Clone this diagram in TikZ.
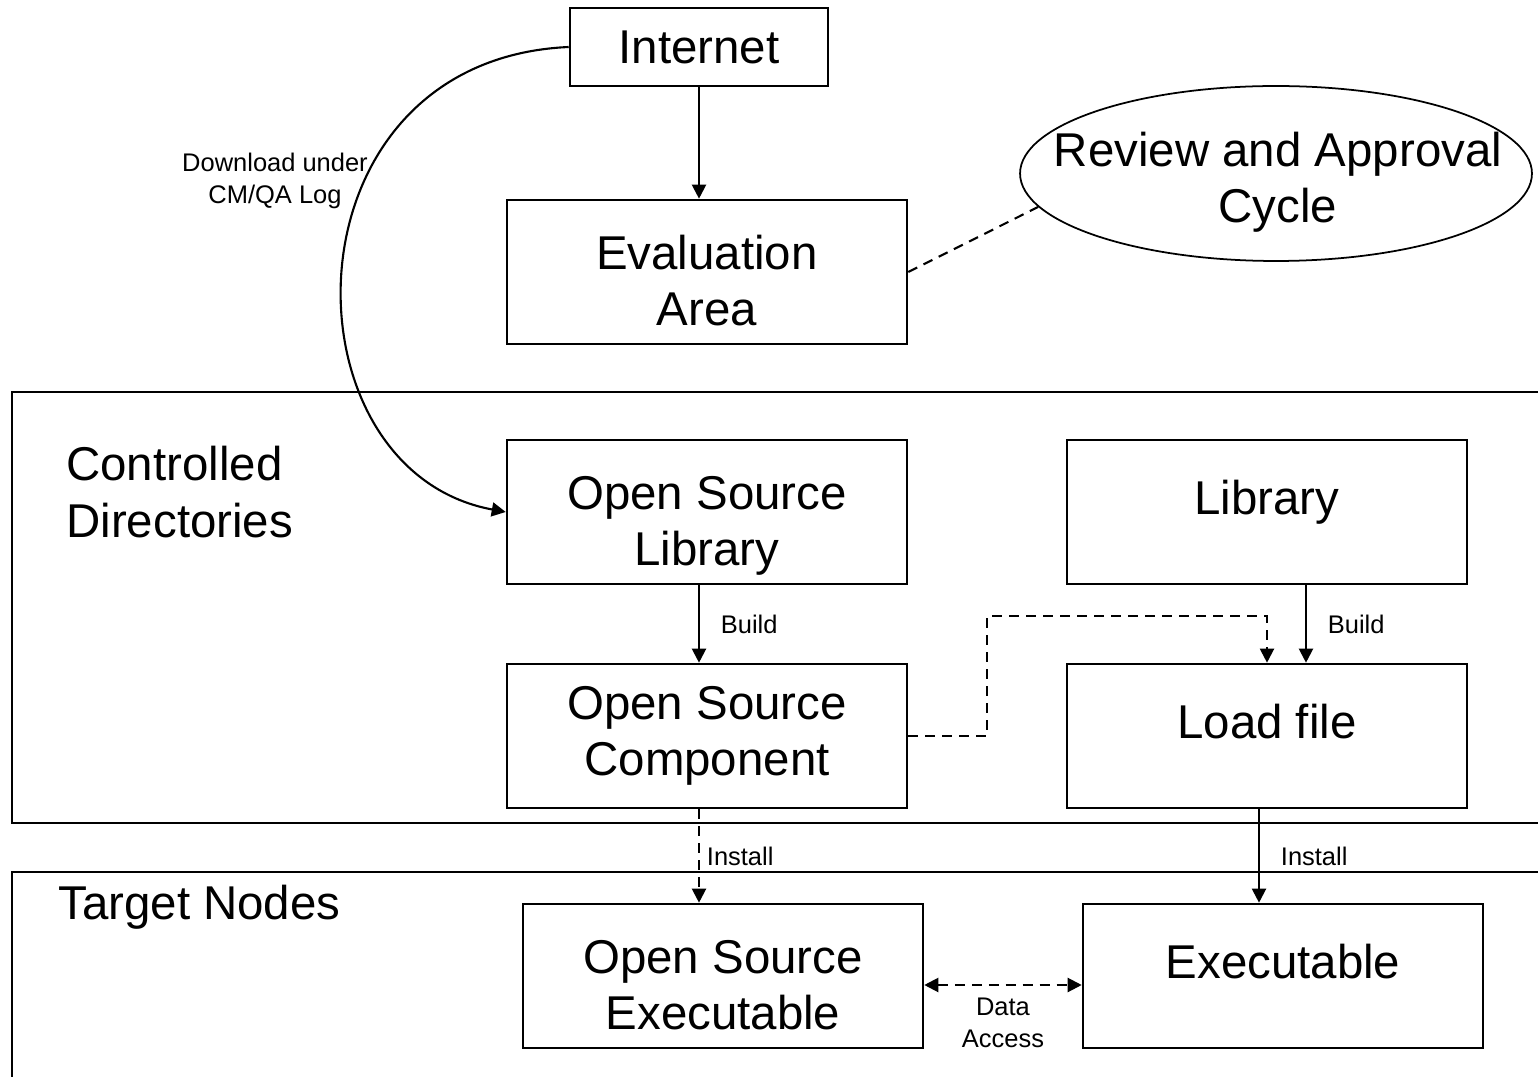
\documentclass[tikz,border=0pt]{standalone}
\usepackage{fontspec}
\setmainfont{Liberation Sans}
\usepackage{tikz}
\usetikzlibrary{positioning, arrows.meta, shapes.geometric}
\tikzset{
    %Define style for boxes
    box/.style={
           rectangle,
           draw=black, line width=1.5pt,
           minimum width=8cm,
           minimum height=2.88cm,
           align=center,
           text height=2.4cm,
           text depth=0.24cm,
           font=\fontsize{27}{32}\selectfont},
 %
  onebox/.style={
           box,
           text height=0.7cm,
           text depth=0.6cm},
 %
  cloud/.style={
           ellipse,
           draw=black, line width=1pt,
           minimum width=10.24cm,
           minimum height=3.5cm},
 %
  area/.style={
           draw=black, line width=1.5pt},
 %
  small/.style={
           font=\fontsize{14.5}{18}\selectfont},
 %
    % Define arrow style
    arrow/.style={
           -{Triangle[length=0.28cm,width=0.28cm]},
           line width=1.2pt},
    dasharrow/.style={
           arrow,
           dash pattern=on 0.2cm off 0.14cm}
}

\begin{document}
\begin{tikzpicture}[x=0.02cm, y=-0.02cm]
  \useasboundingbox (0,0) rectangle (1538,1077);

  % the two areas
  \draw[area] (12,392) rectangle (1580,823);
  \draw[area] (12,872) rectangle (1580,1120);
  \node[anchor=west, inner sep=0, align=left, font=\fontsize{27}{32}\selectfont]
       (ctrl) at (66,492) {Controlled\\Directories};
  \node[anchor=west, inner sep=0, font=\fontsize{27}{32}\selectfont]
       (tgt) at (58,907) {Target Nodes};

  % boxes
  \node[box, minimum width=5.16cm, minimum height=1.56cm, text height=, text depth=] (inet) at (699,47) {Internet};
  \node[box] (eval) at (707,272) {Evaluation\\Area};
  \node[cloud, label={[align=center, xshift=0.04cm, yshift=-0.17cm, font=\fontsize{27}{32}\selectfont]center:Review and Approval\\Cycle}]
       (review) at (1276,173.5) {};
  \node[box] (osl) at (707,512) {Open Source\\Library};
  \node[onebox] (lib) at (1267,512) {Library};
  \node[box, text height=, text depth=] (osc) at (707,736) {Open Source\\Component};
  \node[onebox] (load) at (1267,736) {Load file};
  \node[box] (ose) at (723,976) {Open Source\\Executable};
  \node[onebox] (exe) at (1283,976) {Executable};
  \node[small, align=center] (dl) at (275,181) {Download under\\CM/QA Log};

  % connectors
  \draw[arrow] (inet) -- (inet |- eval.north);
  \draw[arrow] (inet.west) .. controls +(-290,13) and +(-227,-42) .. (osl.west);
  \draw[line width=1.2pt, dash pattern=on 0.2cm off 0.14cm] (eval.east) -- (review.188);

  \draw[arrow] ([xshift=-0.16cm]osl.south) -- ([xshift=-0.16cm]osc.north)
     node[small, midway, right=0.3cm] (b1) {Build};
  \draw[arrow] ([xshift=0.78cm]lib.south) -- ([xshift=0.78cm]load.north)
     node[small, midway, right=0.3cm] (b2) {Build};
  \draw[dasharrow] (osc.east) -| (987,616) -| (load.north);

  \draw[dasharrow] ([xshift=-0.16cm]osc.south) -- ([xshift=-0.16cm]osc.south |- ose.north)
     node[small, midway, right=0.02cm] (i1) {Install};
  \draw[arrow] ([xshift=-0.16cm]load.south) -- ([xshift=-0.16cm]load.south |- exe.north)
     node[small, midway, right=0.3cm] (i2) {Install};
  \draw[dasharrow, {Triangle[length=0.28cm,width=0.28cm]}-{Triangle[length=0.28cm,width=0.28cm]}]
       ([yshift=-0.18cm]ose.east) -- ([yshift=-0.18cm]exe.west)
     node[small, midway, below=0.12cm, align=center] (da) {Data\\Access};
\end{tikzpicture}
\end{document}
